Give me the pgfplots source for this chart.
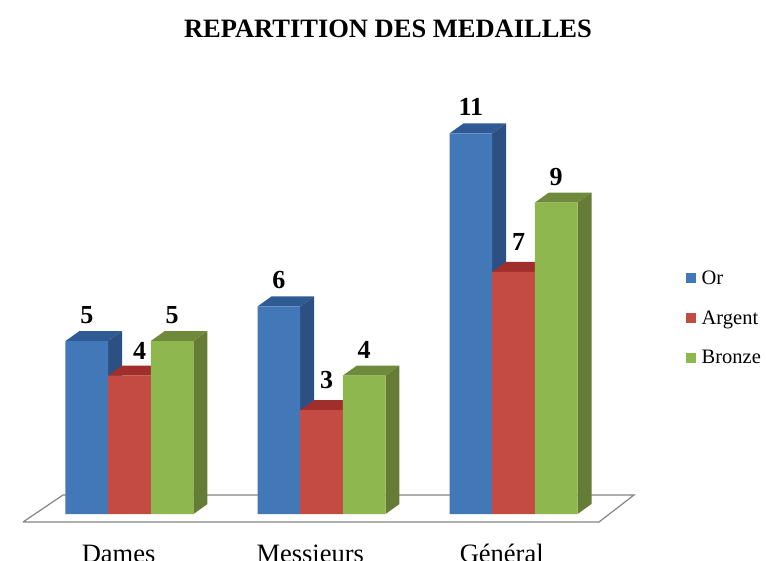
\documentclass[border=0pt]{standalone}
\usepackage{pgfplots}
\pgfplotsset{compat=1.18}
\usepackage{fontspec}
\setmainfont{Liberation Serif}
\definecolor{orF}{HTML}{4277B8}
\definecolor{orT}{HTML}{2F5A94}
\definecolor{orS}{HTML}{2C5083}
\definecolor{arF}{HTML}{C44A44}
\definecolor{arT}{HTML}{A02F2B}
\definecolor{arS}{HTML}{8E2F2C}
\definecolor{brF}{HTML}{8FB74F}
\definecolor{brT}{HTML}{6E8A3A}
\definecolor{brS}{HTML}{667C36}
\definecolor{floorc}{HTML}{858585}
\newcommand{\depthfaces}[4]{%
  \pgfmathsetmacro{\xa}{#1}%
  \pgfmathsetmacro{\xb}{#1+0.2222}%
  \pgfmathsetmacro{\xc}{#1+0.2222+0.0729}%
  \pgfmathsetmacro{\xd}{#1+0.0729}%
  \pgfmathsetmacro{\yt}{#2+0.289}%
  \edef\tempplot{\noexpand\addplot[fill=#3,draw=none,forget plot] coordinates {(\xa,#2) (\xd,\yt) (\xc,\yt) (\xb,#2)};
  \noexpand\addplot[fill=#4,draw=none,forget plot] coordinates {(\xb,0) (\xc,0.289) (\xc,\yt) (\xb,#2)};}%
  \tempplot}
\begin{document}
\begin{tikzpicture}
\begin{axis}[
  at={(0pt,0pt)},anchor=south west,
  scale only axis,width=766pt,height=560pt,
  xmin=-0.6745,xmax=3.3151,ymin=-1.329,ymax=14.855,
  clip=false,
  axis line style={draw=none},
  ytick=\empty,
  xtick={-0.057,0.9414,1.9388},
  xticklabels={Dames,Messieurs,Général},
  major tick length=0pt,
  tick style={draw=none},
  xticklabel style={font=\fontsize{26.5}{30}\selectfont,anchor=base,yshift=-2.5pt},
  title={REPARTITION DES MEDAILLES},
  title style={font=\fontsize{26.5}{30}\selectfont\bfseries,at={(axis description cs:0.5065,0.9375)},anchor=center},
  /pgf/number format/assume math mode=true,
  nodes near coords style={font=\fontsize{26}{30}\selectfont\bfseries,anchor=center,yshift=26pt},
  legend style={draw=none,fill=none,at={(axis description cs:0.8955,0.521)},anchor=north west,
    row sep=21pt,font=\fontsize{20.5}{22}\selectfont,inner sep=0pt},
  legend cell align=left,
  legend image code/.code={\fill[#1] (0pt,-5pt) rectangle (10pt,5pt);\path (13.5pt,0pt);},
]
\addplot[fill=white,draw=floorc,line width=1.2pt,forget plot]
  coordinates {(-0.5547,-0.2312) (-0.3464,0.5491) (2.6276,0.5491) (2.4453,-0.2312) (-0.5547,-0.2312)};

\depthfaces{-0.3333}{5}{orT}{orS}
\depthfaces{0.6667}{6}{orT}{orS}
\depthfaces{1.6667}{11}{orT}{orS}
\addplot[ybar,bar width=42.67pt,bar shift=-42.67pt,fill=orF,draw=none,
  nodes near coords,nodes near coords style={xshift=-42.67pt}]
  coordinates {(0,5) (1,6) (2,11)};
\addlegendentry{Or}

\depthfaces{-0.1111}{4}{arT}{arS}
\depthfaces{0.8889}{3}{arT}{arS}
\depthfaces{1.8889}{7}{arT}{arS}
\addplot[ybar,bar width=42.67pt,bar shift=0pt,fill=arF,draw=none,
  nodes near coords,nodes near coords style={xshift=5pt,yshift=4pt},
  coordinate style/.condition={x==0}{xshift=5pt,yshift=-5pt}]
  coordinates {(0,4) (1,3) (2,7)};
\addlegendentry{Argent}

\depthfaces{0.1111}{5}{brT}{brS}
\depthfaces{1.1111}{4}{brT}{brS}
\depthfaces{2.1111}{9}{brT}{brS}
\addplot[ybar,bar width=42.67pt,bar shift=42.67pt,fill=brF,draw=none,
  nodes near coords,nodes near coords style={xshift=42.67pt}]
  coordinates {(0,5) (1,4) (2,9)};
\addlegendentry{Bronze}
\end{axis}
\pgfresetboundingbox
\path[use as bounding box] (0pt,0pt) rectangle (766pt,560pt);
\end{tikzpicture}
\end{document}
